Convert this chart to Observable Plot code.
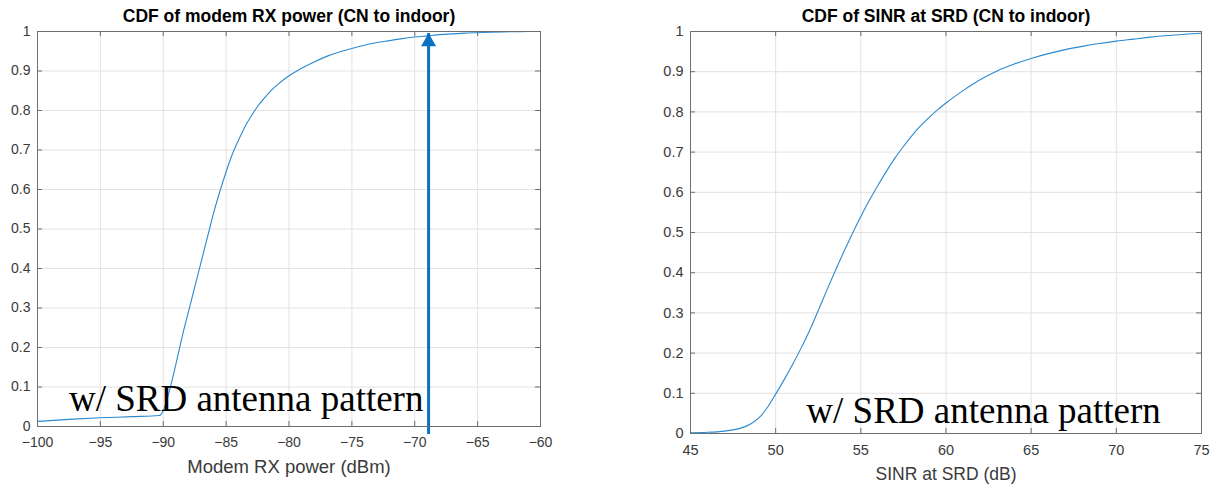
<!DOCTYPE html>
<html>
<head>
<meta charset="utf-8">
<script src="https://cdn.jsdelivr.net/npm/d3@7"></script>
<script src="https://cdn.jsdelivr.net/npm/@observablehq/plot@0.6"></script>
<style>
  html, body { margin: 0; padding: 0; background: #fff; }
  #wrap { position: relative; width: 1215px; height: 484px; overflow: hidden; }
  .panel { position: absolute; top: 0; }
</style>
</head>
<body>
<div id="wrap">
  <div class="panel" id="left" style="left:0px"></div>
  <div class="panel" id="right" style="left:640px"></div>
</div>
<script>
// ---- Data ----
const leftTitle = "CDF of modem RX power (CN to indoor)";
const leftXLabel = "Modem RX power (dBm)";
const rightTitle = "CDF of SINR at SRD (CN to indoor)";
const rightXLabel = "SINR at SRD (dB)";
const annotationText = "w/ SRD antenna pattern";

const rxPowerX = [-100, -97.5, -95, -92.5, -90.3, -90, -89.6, -89.2, -88.8, -88.4, -88, -87.6, -87.2, -86.8, -86.4, -86, -85.5, -85, -84.5, -84, -83.5, -83, -82.5, -82, -81.5, -81, -80, -79, -78, -77, -76, -75, -74, -73, -72, -71, -70, -69, -68, -67, -66, -65, -64, -63, -62, -61, -60];
const rxPowerCdf = [0.013, 0.018, 0.022, 0.025, 0.028, 0.04, 0.08, 0.13, 0.185, 0.24, 0.29, 0.34, 0.39, 0.44, 0.49, 0.54, 0.595, 0.645, 0.69, 0.726, 0.759, 0.786, 0.81, 0.83, 0.848, 0.863, 0.888, 0.907, 0.923, 0.937, 0.948, 0.957, 0.965, 0.972, 0.977, 0.982, 0.986, 0.989, 0.992, 0.994, 0.996, 0.997, 0.998, 0.999, 0.9995, 1, 1];

const sinrX = [45, 46, 47, 47.5, 48, 48.5, 49, 49.5, 50, 50.5, 51, 51.5, 52, 52.5, 53, 53.5, 54, 54.5, 55, 55.5, 56, 56.5, 57, 57.5, 58, 58.5, 59, 59.5, 60, 60.5, 61, 61.5, 62, 63, 64, 65, 66, 67, 68, 69, 70, 71, 72, 73, 74, 75];
const sinrCdf = [0.002, 0.003, 0.006, 0.009, 0.014, 0.023, 0.038, 0.064, 0.098, 0.134, 0.172, 0.213, 0.257, 0.306, 0.356, 0.405, 0.452, 0.497, 0.54, 0.58, 0.617, 0.652, 0.685, 0.714, 0.741, 0.765, 0.786, 0.805, 0.822, 0.838, 0.853, 0.867, 0.88, 0.902, 0.919, 0.933, 0.945, 0.955, 0.963, 0.97, 0.976, 0.981, 0.986, 0.99, 0.993, 0.996];

const leftXTicks = [-100, -95, -90, -85, -80, -75, -70, -65, -60];
const rightXTicks = [45, 50, 55, 60, 65, 70, 75];
const yTicks = [0, 0.1, 0.2, 0.3, 0.4, 0.5, 0.6, 0.7, 0.8, 0.9, 1];

const arrowX = [-68.9];
const arrowTop = [0.995];
const leftNote = {x: -97.5, y: 0.04};
const rightNote = {x: 51.8, y: 0.027};

// ---- Styling ----
const lineColor = "#2c8ad0";
const arrowColor = "#0a72c2";
const frameColor = "#6e6e6e";
const gridColor = "#e2e2e2";
const labelColor = "#3a3a3a";
const sansFont = "'Liberation Sans', Arial, Helvetica, sans-serif";
const serifFont = "'Liberation Serif', 'Times New Roman', serif";
const yFmt = d => d === 0 ? "0" : d === 1 ? "1" : d.toFixed(1);

function panel({width, height, margins, xDomain, xTicks, xs, ys, title, xLabel, note, tickFont, labelFont, extra = []}) {
  const [mt, mr, mb, ml] = margins;
  const ph = height - mt - mb;
  const pw = width - ml - mr;
  const data = xs.map((x, i) => ({x, y: ys[i]}));
  return Plot.plot({
    width, height,
    marginTop: mt, marginRight: mr, marginBottom: mb, marginLeft: ml,
    style: {fontFamily: sansFont, background: "#fff", overflow: "visible"},
    x: {domain: xDomain},
    y: {domain: [0, 1]},
    marks: [
      Plot.gridX(xTicks, {stroke: gridColor, strokeOpacity: 1}),
      Plot.gridY(yTicks, {stroke: gridColor, strokeOpacity: 1}),
      Plot.line(data, {x: "x", y: "y", stroke: lineColor, strokeWidth: 1.1, curve: "monotone-x"}),
      ...extra,
      Plot.text([note], {x: "x", y: "y", text: () => annotationText, textAnchor: "start", lineAnchor: "bottom", fontFamily: serifFont, fontSize: 37, fill: "#000"}),
      // inward ticks on all four sides
      Plot.tickX(xTicks, {x: d => d, insetBottom: ph - 5, stroke: frameColor}),
      Plot.tickX(xTicks, {x: d => d, insetTop: ph - 5, stroke: frameColor}),
      Plot.tickY(yTicks, {y: d => d, insetRight: pw - 5, stroke: frameColor}),
      Plot.tickY(yTicks, {y: d => d, insetLeft: pw - 5, stroke: frameColor}),
      Plot.frame({stroke: frameColor, strokeWidth: 1}),
      Plot.axisX(xTicks, {tickSize: 0, tickPadding: 11, fontSize: tickFont, fill: labelColor, label: null}),
      Plot.axisY(yTicks, {tickSize: 0, tickPadding: 7, fontSize: tickFont, fill: labelColor, tickFormat: yFmt, label: null}),
      Plot.text([title], {frameAnchor: "top", text: d => d, dy: -10, lineAnchor: "bottom", fontWeight: "bold", fontSize: 17.5, fill: "#000"}),
      Plot.text([xLabel], {frameAnchor: "bottom", text: d => d, dy: 46, lineAnchor: "bottom", fontSize: labelFont, fill: labelColor})
    ]
  });
}

const leftChart = panel({
  width: 560, height: 484, margins: [31, 20, 58, 37],
  xDomain: [-100, -60], xTicks: leftXTicks, xs: rxPowerX, ys: rxPowerCdf,
  title: leftTitle, xLabel: leftXLabel, note: leftNote, tickFont: 14, labelFont: 18.5,
  extra: [
    Plot.ruleX(arrowX, {x: d => d, y1: 0, y2: () => arrowTop[0], insetTop: 8, stroke: arrowColor, strokeWidth: 3}),
    Plot.dot(arrowX, {x: d => d, y: () => arrowTop[0], symbol: "triangle", r: 5.6, dy: 8.5, fill: arrowColor, stroke: "none"})
  ]
});
document.getElementById("left").appendChild(leftChart);

const rightChart = panel({
  width: 575, height: 484, margins: [31, 14, 51, 50],
  xDomain: [45, 75], xTicks: rightXTicks, xs: sinrX, ys: sinrCdf,
  title: rightTitle, xLabel: rightXLabel, note: rightNote, tickFont: 14.5, labelFont: 17.5
});
document.getElementById("right").appendChild(rightChart);
</script>
</body>
</html>
